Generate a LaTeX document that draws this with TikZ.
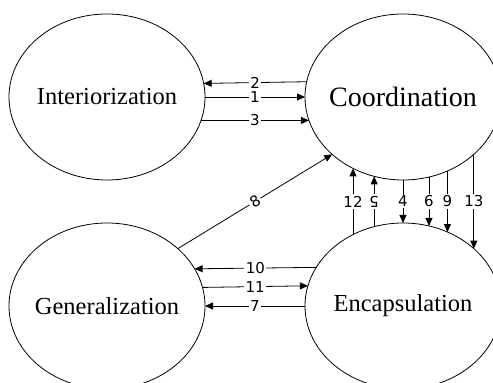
\documentclass[tikz,border=0pt]{standalone}
\usepackage{fontspec}
\setmainfont{Liberation Serif}
\newfontfamily\numfont{DejaVu Sans}
\usetikzlibrary{arrows.meta,shapes.geometric}

\begin{document}
\begin{tikzpicture}[x=1pt,y=1pt,
  >={Triangle[length=8pt,width=7pt]},
  phase/.style={draw, ellipse, minimum width=196pt, minimum height=166pt,
    inner sep=0pt, outer sep=0pt, line width=0.8pt},
  phasename/.style={font=\fontsize{24.5}{28}\selectfont},
  link/.style={line width=0.8pt},
  num/.style={fill=white, inner sep=1.5pt, font=\numfont\fontsize{15}{15}\selectfont}]
  \useasboundingbox (0,0) rectangle (493,383);
  \clip (0,0) rectangle (493,383);

  \node[phase, label={[phasename]center:Interiorization}] (inter) at (107,286) {};
  \node[phase, label={[phasename, font=\fontsize{28}{32}\selectfont]center:Coordination}] (coord) at (403,286) {};
  \node[phase, label={[phasename]center:Generalization}] (gener) at (107,77) {};
  \node[phase, label={[phasename]center:Encapsulation}] (encap) at (403,77) {};

  % upper pair
  \foreach \dy/\num/\dir in {14/2/<-, 0/1/->, -24/3/->} {
    \pgfmathsetmacro\ang{atan2(\dy, 98*sqrt(1-(\dy/83)^2))}
    \pgfmathsetmacro\angb{180-\ang}
    \draw[link, \dir] (inter.\ang) -- node[num]{\num} (coord.\angb);
  }

  % lower pair
  \foreach \dy/\num/\dir in {38/10/<-, 20/11/->, 0/7/<-} {
    \pgfmathsetmacro\ang{atan2(\dy, 98*sqrt(1-(\dy/83)^2))}
    \pgfmathsetmacro\angb{180-\ang}
    \draw[link, \dir] (gener.\ang) -- node[num]{\num} (encap.\angb);
  }

  % right side
  \foreach \dx/\num/\dir/\rot in {-50/12/<-/0, -29/5/<-/180, 0/4/->/0,
      26/6/->/0, 44/9/->/0, 70/13/->/0} {
    \pgfmathsetmacro\ang{atan2(-83*sqrt(1-(\dx/98)^2), \dx)}
    \pgfmathsetmacro\angb{-\ang}
    \draw[link, \dir] (coord.\ang) -- node[num, rotate=\rot]{\num} (encap.\angb);
  }

  % diagonal
  \draw[link, ->] (gener.39) -- node[num, sloped]{8} (coord.219);
\end{tikzpicture}
\end{document}
